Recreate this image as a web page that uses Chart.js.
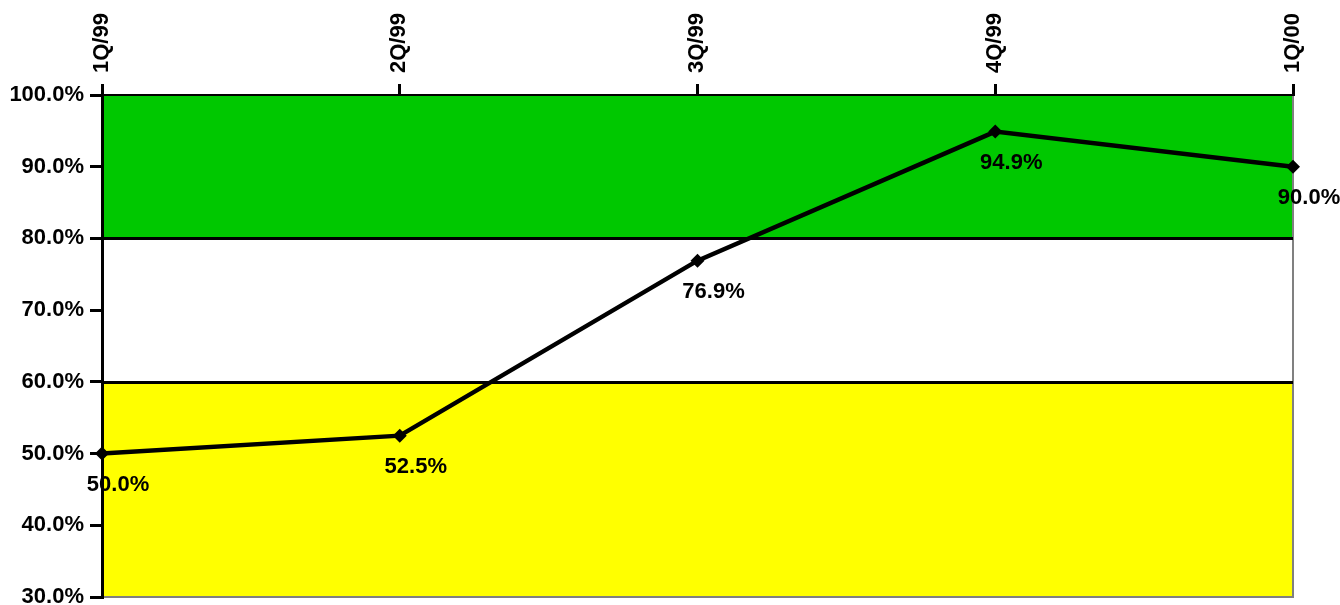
<!DOCTYPE html>
<html>
<head>
<meta charset="utf-8">
<script src="https://cdn.jsdelivr.net/npm/chart.js@4/dist/chart.umd.min.js"></script>
<style>
  html, body { margin: 0; padding: 0; background: #ffffff; }
  #wrap { width: 1340px; height: 605px; position: relative; }
</style>
</head>
<body>
<div id="wrap"><canvas id="c" width="1340" height="605"></canvas></div>
<script>
const categories = ['1Q/99', '2Q/99', '3Q/99', '4Q/99', '1Q/00'];
const values = [50.0, 52.5, 76.9, 94.9, 90.0];
const yMin = 30;
const yMax = 100;
const yStep = 10;
const bandLimits = [30, 60, 80, 100];
const bandColors = ['#FFFF00', '#FFFFFF', '#00C800'];
const bandLines = [60, 80];

const FONT = '"Liberation Sans", Arial, sans-serif';

const bandsPlugin = {
  id: 'bands',
  beforeDraw(chart) {
    const { ctx, chartArea: a, scales: { y } } = chart;
    ctx.save();
    for (let i = 0; i < bandColors.length; i++) {
      const top = y.getPixelForValue(bandLimits[i + 1]);
      const bot = y.getPixelForValue(bandLimits[i]);
      ctx.fillStyle = bandColors[i];
      ctx.fillRect(a.left, top, a.right - a.left, bot - top);
    }
    ctx.strokeStyle = '#808080';
    ctx.lineWidth = 2;
    ctx.beginPath();
    ctx.moveTo(a.right, a.top);
    ctx.lineTo(a.right, a.bottom);
    ctx.lineTo(a.left, a.bottom);
    ctx.stroke();
    ctx.strokeStyle = '#000000';
    ctx.lineWidth = 3;
    for (const v of bandLines) {
      const py = Math.round(y.getPixelForValue(v)) + 0.5;
      ctx.beginPath();
      ctx.moveTo(a.left, py);
      ctx.lineTo(a.right, py);
      ctx.stroke();
    }
    ctx.restore();
  }
};

const labelsPlugin = {
  id: 'pointLabels',
  afterDatasetsDraw(chart) {
    const { ctx } = chart;
    const meta = chart.getDatasetMeta(0);
    ctx.save();
    ctx.font = 'bold 22px ' + FONT;
    ctx.fillStyle = '#000000';
    ctx.textAlign = 'center';
    ctx.textBaseline = 'middle';
    meta.data.forEach((pt, i) => {
      ctx.fillText(values[i].toFixed(1) + '%', pt.x + 16, pt.y + 31);
    });
    ctx.restore();
  }
};

new Chart(document.getElementById('c'), {
  type: 'line',
  data: {
    labels: categories,
    datasets: [{
      data: values,
      borderColor: '#000000',
      backgroundColor: '#000000',
      borderWidth: 4.5,
      pointStyle: 'rectRot',
      pointRadius: 7,
      pointBorderWidth: 0,
      tension: 0,
      fill: false
    }]
  },
  options: {
    responsive: false,
    animation: false,
    events: [],
    layout: { padding: { left: 0, right: 47, top: 0, bottom: 8 } },
    plugins: { legend: { display: false }, tooltip: { enabled: false } },
    scales: {
      x: {
        type: 'category',
        position: 'top',
        offset: false,
        grid: { display: true, drawOnChartArea: false, color: '#000000', lineWidth: 3, tickLength: 11 },
        border: { display: true, color: '#000000', width: 2 },
        ticks: {
          color: '#000000',
          font: { family: FONT, size: 22, weight: 'bold' },
          minRotation: 90, maxRotation: 90,
          padding: 11,
          labelOffset: 26,
          autoSkip: false
        },
        afterFit(s) { s.height = 95; s.paddingLeft = 0; s.paddingRight = 0; }
      },
      y: {
        min: yMin, max: yMax,
        grid: { display: true, drawOnChartArea: false, color: '#000000', lineWidth: 3, tickLength: 12 },
        border: { display: true, color: '#000000', width: 3 },
        ticks: {
          stepSize: yStep,
          color: '#000000',
          font: { family: FONT, size: 22, weight: 'bold' },
          padding: 6,
          callback: v => v.toFixed(1) + '%'
        },
        afterFit(s) { s.width = 102; s.paddingTop = 0; s.paddingBottom = 0; }
      }
    }
  },
  plugins: [bandsPlugin, labelsPlugin]
});
</script>
</body>
</html>
